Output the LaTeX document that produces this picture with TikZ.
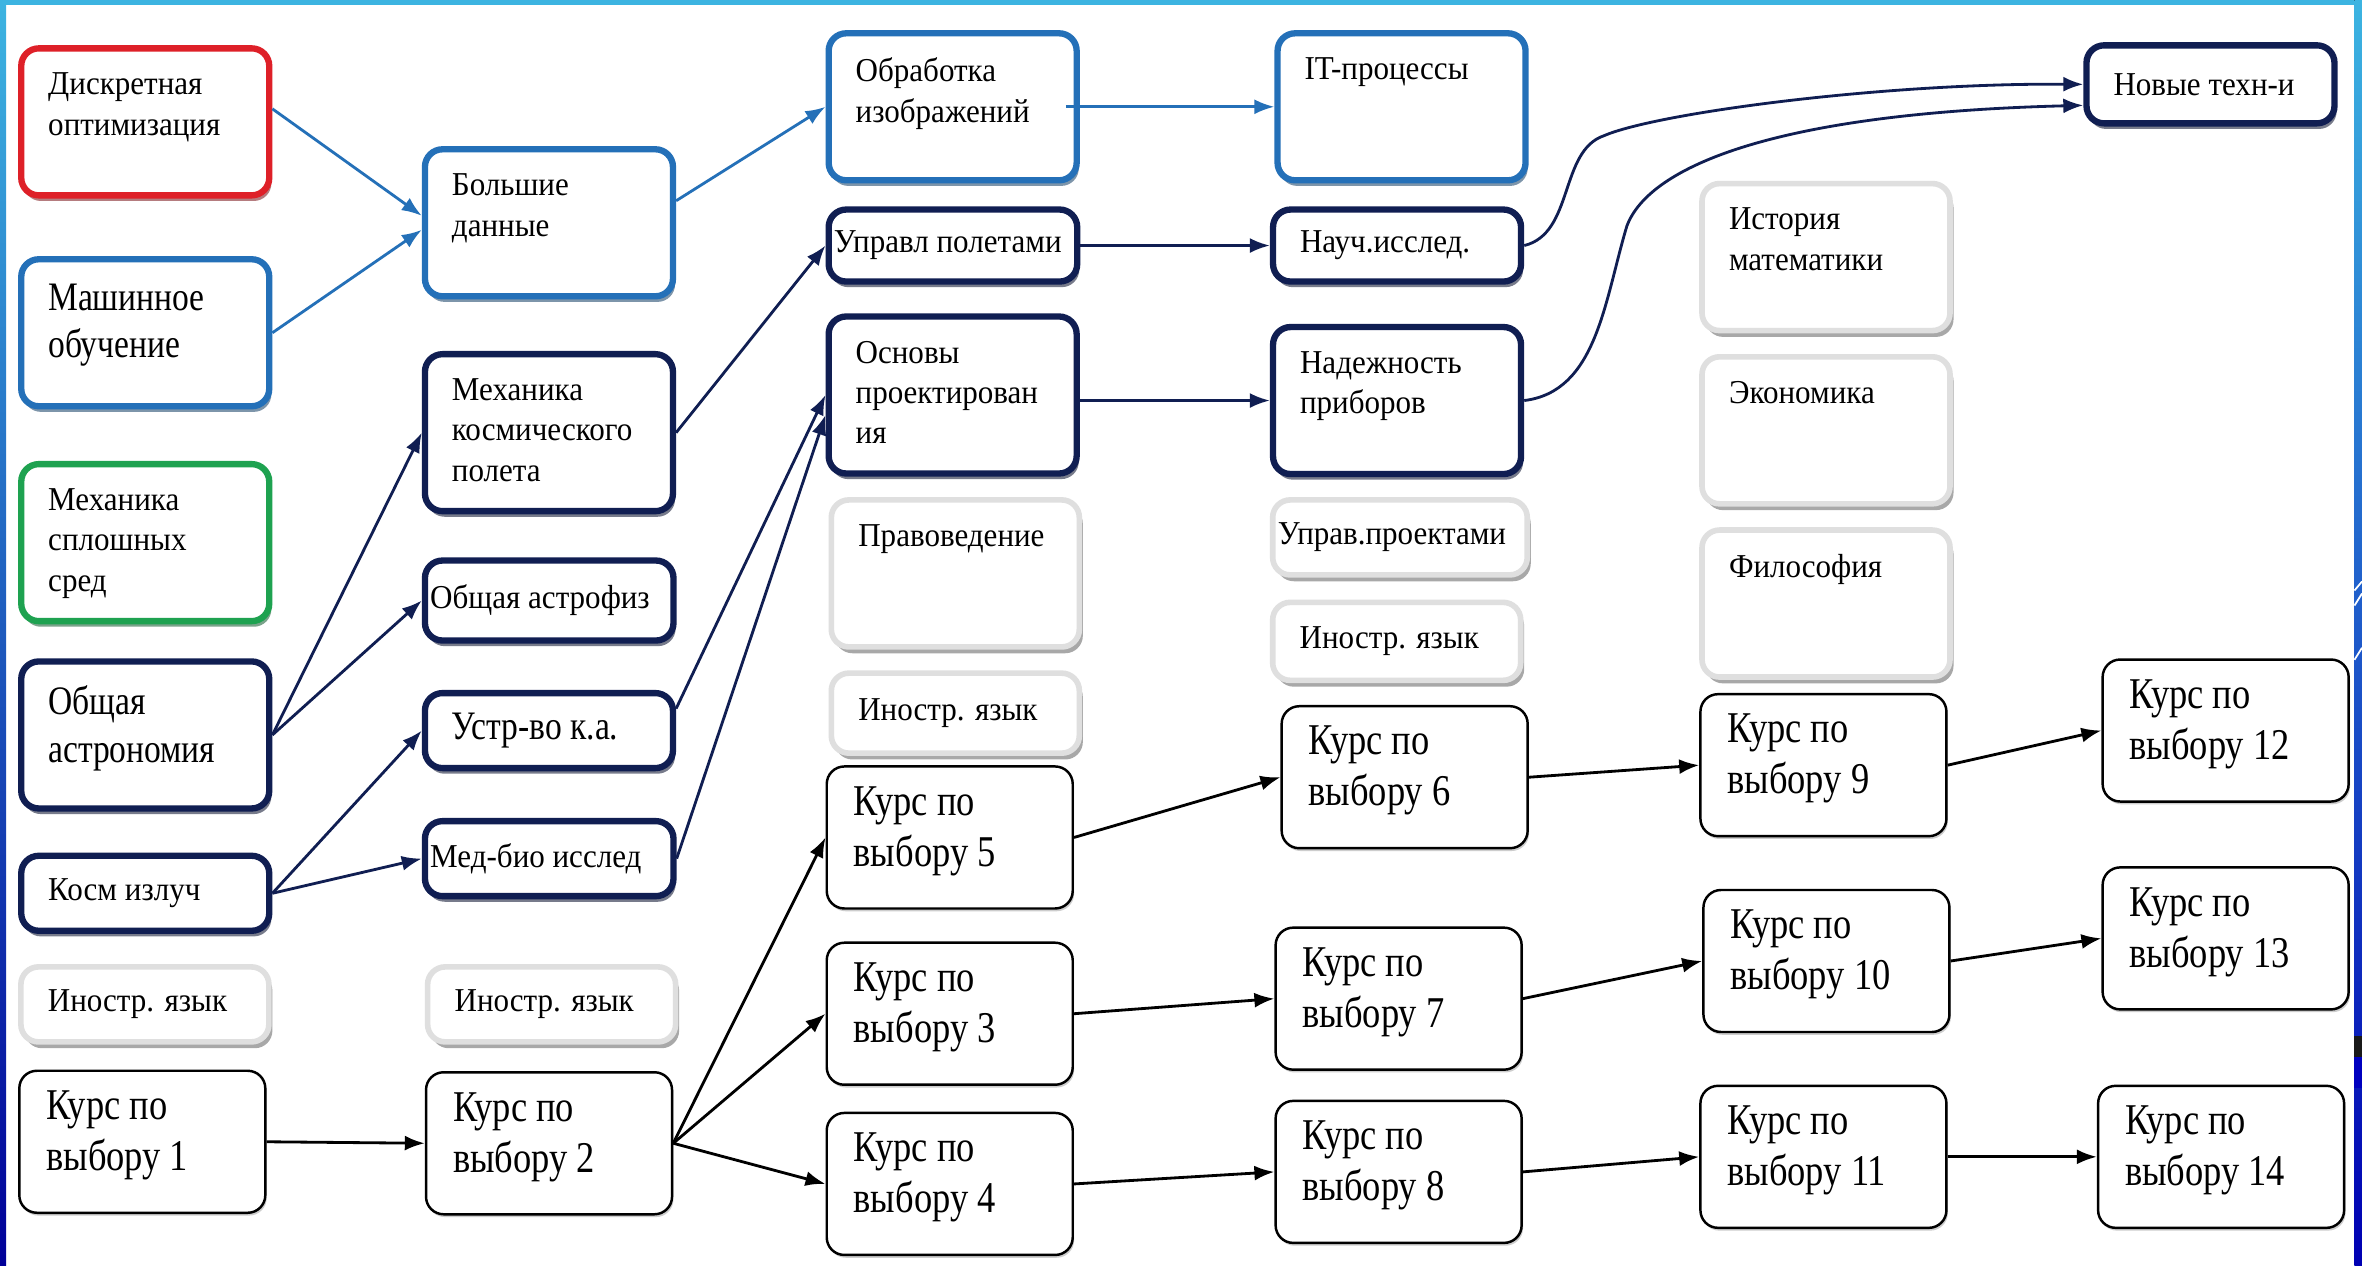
\documentclass[tikz,border=0pt]{standalone}
\usepackage{fontspec}
\setmainfont{Liberation Serif}[FakeStretch=0.93]
\newfontfamily\narrowfnt{Liberation Serif}[FakeStretch=0.83]
\usetikzlibrary{arrows.meta,shadows}

\definecolor{cred}{RGB}{222,32,40}
\definecolor{cblue}{RGB}{36,112,184}
\definecolor{cgreen}{RGB}{30,162,80}
\definecolor{cnavy}{RGB}{16,30,82}
\definecolor{cframe}{RGB}{60,180,225}

\newcommand{\smallfnt}{\fontsize{9.5}{11.5}\selectfont}
\newcommand{\midfnt}{\narrowfnt\fontsize{11.5}{13.5}\selectfont}
\newcommand{\bigfnt}{\narrowfnt\fontsize{12.5}{14.5}\selectfont}

\tikzset{
  box/.style={rounded corners=5pt, fill=white, anchor=north west, inner xsep=0.27cm, font=\smallfnt},
  sz/.style 2 args={inner ysep=0.2cm,
    execute at begin node={\begin{minipage}[c][#2][t]{#1}\raggedright},
    execute at end node={\end{minipage}}},
  tall/.style={sz={1.94cm}{0.98cm}, inner ysep=0.245cm},
  taller/.style={sz={1.94cm}{1.08cm}, inner ysep=0.245cm},
  low/.style={minimum height=0.75cm, inner ysep=0pt,
    execute at begin node={\hbox to #1\bgroup}, execute at end node={\hfil\egroup}},
  low/.default=1.94cm,
  core/.style={box, draw=#1, line width=1.8pt,
    drop shadow={shadow xshift=0.6pt, shadow yshift=-1.6pt, fill=#1!55!black, opacity=0.55}},
  opt/.style={box, draw=gray!25, line width=1.6pt,
    drop shadow={shadow xshift=1pt, shadow yshift=-1.8pt, fill=gray!75, opacity=0.9}},
  course/.style={box, draw=black, line width=0.7pt, font=\bigfnt, sz={1.92cm}{1.02cm},
    drop shadow={shadow xshift=0.4pt, shadow yshift=-0.8pt, fill=gray!55, opacity=0.7}},
  link/.style={draw=#1, line width=0.8pt, -{Latex[length=2mm, width=1.5mm]}},
}

\begin{document}
\begin{tikzpicture}[x=0.15064mm, y=-0.15064mm]
  \useasboundingbox (0,0) rectangle (1568,840);
  \fill[white] (0,0) rectangle (1568,840);
  % slide frame
  \fill[top color=cframe, bottom color=blue!60!black] (0,0) rectangle (4,840);
  \fill[cframe] (0,0) rectangle (1568,3);
  \fill[top color=cframe, bottom color=blue!70!black] (1563,0) rectangle (1568,840);
  \draw[white, line width=0.5pt] (1563,392) -- (1568,386) (1563,402) -- (1568,394) (1563,438) -- (1568,430);
  \fill[black!90] (1563,688) rectangle (1568,702);
  \fill[blue!75!black] (1563,702) rectangle (1568,722);

  % core subjects
  \node[core=cred, tall] (dopt) at (12,30) {Дискретная\\оптимизация};
  \node[core=cblue, tall, font=\midfnt] (mlearn) at (12,170) {Машинное\\обучение};
  \node[core=cgreen, taller] (msred) at (12,306) {Механика\\сплошных\\сред};
  \node[core=cnavy, tall, font=\midfnt] (astro) at (12,437) {Общая\\астрономия};
  \node[core=cnavy, low] (kizl) at (12,566) {Косм излуч};

  \node[core=cblue, tall] (bigd) at (280,97) {Большие\\данные};
  \node[core=cnavy, taller] (mkp) at (280,233) {Механика\\космического\\полета};
  \node[core=cnavy, low=2.38cm, inner xsep=1.5pt, minimum height=0.8cm] (astrof) at (280,370) {Общая астрофиз};
  \node[core=cnavy, low, font=\midfnt] (ustr) at (280,458) {Устр-во к.а.};
  \node[core=cnavy, low=2.38cm, inner xsep=1.5pt] (medbio) at (280,543) {Мед-био исслед};

  \node[core=cblue, tall] (obr) at (548,20) {Обработка\\изображений};
  \node[core=cnavy, low=2.38cm, inner xsep=1.5pt, minimum height=0.72cm] (upol) at (548,137) {Управл полетами};
  \node[core=cnavy, taller] (osn) at (548,208) {Основы\\проектирован\\ия};

  \node[core=cblue, tall] (itp) at (846,20) {IT-процессы};
  \node[core=cnavy, low, minimum height=0.72cm] (nauch) at (843,137) {Науч.исслед.};
  \node[core=cnavy, tall] (nadezh) at (843,215) {Надежность\\приборов};

  \node[core=cnavy, low, minimum height=0.78cm] (newt) at (1383,28) {Новые техн-и};

  % other subjects
  \node[opt, low] (lang1) at (12,640) {Иностр. язык};
  \node[opt, low] (lang2) at (282,640) {Иностр. язык};
  \node[opt, tall] (prav) at (550,330) {Правоведение};
  \node[opt, low, minimum height=0.8cm] (lang3) at (550,445) {Иностр. язык};
  \node[opt, low=2.44cm, inner xsep=1.5pt] (uprproj) at (843,330) {Управ.проектами};
  \node[opt, low, minimum height=0.78cm] (lang4) at (843,398) {Иностр. язык};
  \node[opt, tall] (hist) at (1128,120) {История\\математики};
  \node[opt, tall] (econ) at (1128,235) {Экономика};
  \node[opt, tall] (phil) at (1128,350) {Философия};

  % elective courses
  \foreach \i/\x/\y in {1/12/710, 2/282/711, 3/548/625, 4/548/738, 5/548/508, 6/850/468, 7/846/615,
      8/846/730, 9/1128/460, 10/1130/590, 11/1128/720, 12/1395/437, 13/1395/575, 14/1392/720}
    \node[course] (k\i) at (\x,\y) {Курс по\\выбору \i};

  % links
  \draw[link=cblue] ([yshift=0.13cm]dopt.east) -- ([yshift=2pt]bigd.west);
  \draw[link=cblue] (mlearn.east) -- ([yshift=-2pt]bigd.west);
  \draw[link=cblue] ([yshift=0.22cm]bigd.east) -- (obr.west);
  \draw[link=cblue] ([xshift=-0.14cm]obr.east) -- (itp.west);

  \draw[link=cnavy] (astro.east) -- (mkp.west);
  \draw[link=cnavy] (astro.east) -- (astrof.west);
  \draw[link=cnavy] (kizl.east) -- (ustr.west);
  \draw[link=cnavy] (kizl.east) -- (medbio.west);
  \draw[link=cnavy] (mkp.east) -- (upol.west);
  \draw[link=cnavy] ([yshift=0.22cm]ustr.east) -- (osn.west);
  \draw[link=cnavy] (medbio.east) -- ([yshift=-0.2cm]osn.west);
  \draw[link=cnavy] (upol.east) -- (nauch.west);
  \draw[link=cnavy] (osn.east |- nadezh.west) -- (nadezh.west);
  \draw[link=cnavy] (nauch.east) .. controls (1045,155) and (1035,100) .. (1065,90)
    .. controls (1100,75) and (1250,55) .. (newt.west);
  \draw[link=cnavy] (nadezh.east) .. controls (1060,260) and (1065,200) .. (1080,150)
    .. controls (1095,110) and (1180,75) .. ([yshift=-0.21cm]newt.west);

  \foreach \a/\b in {1/2, 2/5, 2/3, 2/4, 5/6, 3/7, 4/8, 6/9, 7/10, 8/11, 9/12, 10/13, 11/14}
    \draw[link=black] (k\a.east) -- (k\b.west);
\end{tikzpicture}
\end{document}
